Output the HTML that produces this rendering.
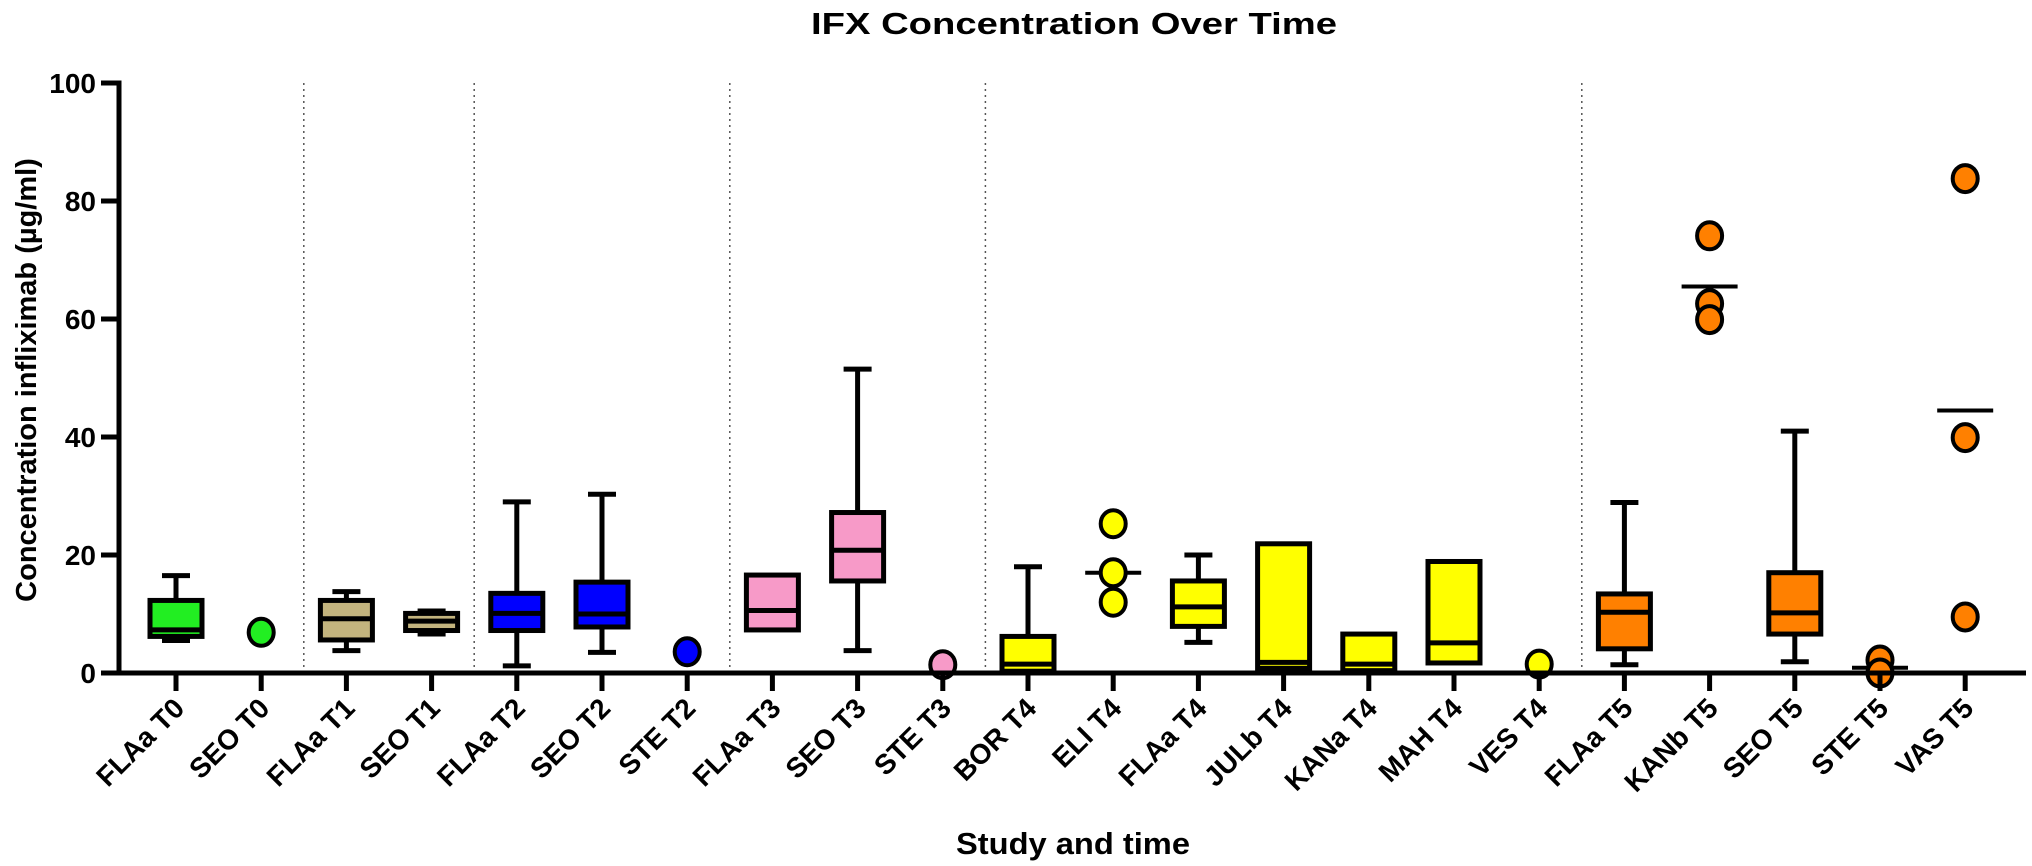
<!DOCTYPE html>
<html><head><meta charset="utf-8"><style>
html,body{margin:0;padding:0;background:#fff;}
svg{display:block;font-family:"Liberation Sans",Arial,sans-serif;font-weight:bold;}
</style></head><body>
<svg id="chart" width="2032" height="866" viewBox="0 0 2032 866" xmlns="http://www.w3.org/2000/svg">
<text x="1074" y="34" font-size="31" text-anchor="middle" textLength="526" lengthAdjust="spacingAndGlyphs">IFX Concentration Over Time</text>
<text transform="translate(36,380) rotate(-90)" font-size="29" text-anchor="middle">Concentration infliximab (µg/ml)</text>
<text x="1073" y="854" font-size="31" text-anchor="middle" textLength="234" lengthAdjust="spacingAndGlyphs">Study and time</text>
<g id="grid"></g><g id="marks"></g><g id="axes"></g>
</svg>
<script>
const categories=["FLAa T0","SEO T0","FLAa T1","SEO T1","FLAa T2","SEO T2","STE T2","FLAa T3","SEO T3","STE T3","BOR T4","ELI T4","FLAa T4","JULb T4","KANa T4","MAH T4","VES T4","FLAa T5","KANb T5","SEO T5","STE T5","VAS T5"];
const colors=["#22ee22","#22ee22","#c3b47e","#c3b47e","#0000ff","#0000ff","#0000ff","#f79ac8","#f79ac8","#f79ac8","#ffff00","#ffff00","#ffff00","#ffff00","#ffff00","#ffff00","#ffff00","#ff8000","#ff8000","#ff8000","#ff8000","#ff8000"];
// box: [min, q1, median, q3, max] or null
const boxes=[[5.5,6.2,7.3,12.3,16.5],null,[3.8,5.6,9.2,12.3,13.8],[6.6,7.2,8.8,10.1,10.5],[1.2,7.2,10.1,13.5,29],[3.5,7.8,10.0,15.4,30.3],null,[7.3,7.3,10.6,16.6,16.6],[3.8,15.6,20.8,27.2,51.5],null,[0.3,0.3,1.5,6.2,18],null,[5.2,7.9,11.2,15.6,20],[0.8,0.8,1.8,21.9,21.9],[0.4,0.4,1.5,6.6,6.6],[1.7,1.7,5.1,18.9,18.9],null,[1.4,4.1,10.3,13.4,28.9],null,[1.9,6.6,10.2,17.0,41.0],null,null];
const points=[[],[6.9],[],[],[],[],[3.6],[],[],[1.4],[],[25.3,17.0,12.0],[],[],[],[],[1.5],[],[74.1,62.6,59.9],[],[2.2,0.0],[83.8,39.9,9.5]];
const means=[null,null,null,null,null,null,null,null,null,null,null,17.0,null,null,null,null,null,null,65.5,null,0.9,44.5];
const yTicks=[0,20,40,60,80,100];
const separators=[1.5,3.5,6.5,9.5,16.5];

const NS="http://www.w3.org/2000/svg";
const X0=176,DX=85.2,Y0=673,YS=5.9;
const xs=i=>X0+DX*i, ys=v=>Y0-YS*v;
function mk(p,t,a){const e=document.createElementNS(NS,t);for(const k in a)e.setAttribute(k,a[k]);p.appendChild(e);return e;}
const grid=document.getElementById('grid'),marks=document.getElementById('marks'),axes=document.getElementById('axes');

separators.forEach(s=>{
 const l=mk(grid,'line',{x1:xs(s),x2:xs(s),y1:ys(100),y2:Y0,stroke:'#555','stroke-width':1.5,'stroke-dasharray':'2,4'});
 
 
});

categories.forEach((c,i)=>{
 const x=xs(i),col=colors[i],b=boxes[i];
 const g=mk(marks,'g',{});
 
 
 if(b){
  const [mn,q1,md,q3,mx]=b;
  if(mx>q3){mk(g,'line',{x1:x,x2:x,y1:ys(q3),y2:ys(mx),stroke:'#000','stroke-width':5});mk(g,'line',{x1:x-14,x2:x+14,y1:ys(mx),y2:ys(mx),stroke:'#000','stroke-width':5});}
  if(mn<q1){mk(g,'line',{x1:x,x2:x,y1:ys(q1),y2:ys(mn),stroke:'#000','stroke-width':5});mk(g,'line',{x1:x-14,x2:x+14,y1:ys(mn),y2:ys(mn),stroke:'#000','stroke-width':5});}
  const r=mk(g,'rect',{x:x-26,y:ys(q3),width:52,height:Math.max(ys(q1)-ys(q3),1),fill:col,stroke:'#000','stroke-width':5});
  
  
  mk(g,'line',{x1:x-26,x2:x+26,y1:ys(md),y2:ys(md),stroke:'#000','stroke-width':5});
 }
 if(means[i]!==null){
  const m=mk(g,'line',{x1:x-28,x2:x+28,y1:ys(means[i]),y2:ys(means[i]),stroke:'#000','stroke-width':4});
  
  
 }
 points[i].forEach(v=>{
  const p=mk(g,'ellipse',{cx:x,cy:ys(v),rx:12.5,ry:13.5,fill:col,stroke:'#000','stroke-width':4});
  
  
 });
 mk(axes,'line',{x1:x,x2:x,y1:Y0,y2:Y0+18,stroke:'#000','stroke-width':5});
 const t=mk(axes,'text',{transform:`translate(${x+10},${Y0+37}) rotate(-45)`,'font-size':28,'text-anchor':'end'});
 t.textContent=c;
 
 
});

const ya=mk(axes,'line',{x1:119,x2:119,y1:ys(100)-2.5,y2:Y0+2.5,stroke:'#000','stroke-width':5});


const xa=mk(axes,'line',{x1:116.5,x2:2026,y1:Y0,y2:Y0,stroke:'#000','stroke-width':5});


yTicks.forEach(v=>{
 mk(axes,'line',{x1:101,x2:119,y1:ys(v),y2:ys(v),stroke:'#000','stroke-width':5});
 const t=mk(axes,'text',{x:96,y:ys(v)+10,'font-size':28,'text-anchor':'end'});
 t.textContent=v;
 
 
});
</script>
</body></html>
